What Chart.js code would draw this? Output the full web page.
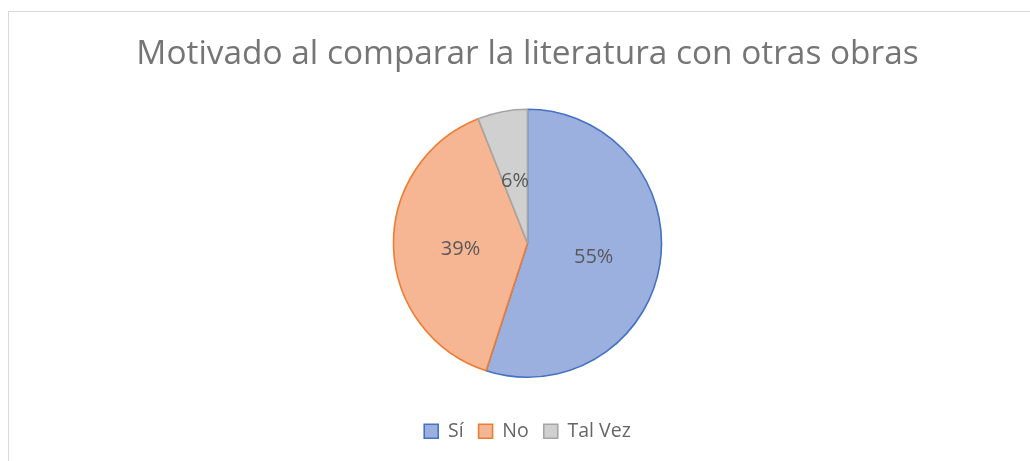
<!DOCTYPE html>
<html>
<head>
<meta charset="utf-8">
<script src="https://cdn.jsdelivr.net/npm/chart.js@4/dist/chart.umd.min.js"></script>
<style>
  html, body { margin: 0; padding: 0; background: #fff; }
  #wrap { position: relative; width: 1030px; height: 461px; overflow: hidden; }
  #frame { position: absolute; left: 8px; top: 11px; width: 1100px; height: 500px;
           border-top: 1px solid #d9d9d9; border-left: 1px solid #d9d9d9; pointer-events: none; }
  canvas { position: absolute; left: 0; top: 0; }
</style>
</head>
<body>
<div id="wrap">
  <div id="frame"></div>
  <canvas id="c" width="1030" height="461"></canvas>
</div>
<script>
const titleText = 'Motivado al comparar la literatura con otras obras';
const categories = ['Sí', 'No', 'Tal Vez'];
const values = [55, 39, 6];
const borderColors = ['#4472C4', '#ED7D31', '#A5A5A5'];
const gradTop = ['#abbae3', '#f8c6ab', '#d6d6d6'];
const gradBottom = ['#879fd9', '#f4a47c', '#c4c4c4'];
const solidColors = ['#9cb0df', '#f6b593', '#d0d0d0'];

const FONT = '"Open Sans", Lato, sans-serif';

function sliceFill(ctx) {
  const chart = ctx.chart;
  const i = ctx.dataIndex;
  const meta = chart.getDatasetMeta(0);
  const arc = meta && meta.data && meta.data[i];
  if (!chart.chartArea || !arc || !arc.outerRadius) return solidColors[i];
  const g = chart.ctx.createLinearGradient(0, arc.y - arc.outerRadius, 0, arc.y + arc.outerRadius);
  g.addColorStop(0, gradTop[i]);
  g.addColorStop(1, gradBottom[i]);
  return g;
}

const labelPlugin = {
  id: 'sliceLabels',
  afterDatasetsDraw(chart) {
    const meta = chart.getDatasetMeta(0);
    const data = chart.data.datasets[0].data;
    const total = data.reduce((a, b) => a + b, 0);
    const ctx = chart.ctx;
    ctx.save();
    ctx.font = '20px ' + FONT;
    ctx.fillStyle = '#595959';
    ctx.textAlign = 'center';
    ctx.textBaseline = 'middle';
    meta.data.forEach((arc, i) => {
      const p = arc.tooltipPosition();
      ctx.fillText(Math.round(data[i] / total * 100) + '%', p.x, p.y + 3.5);
    });
    ctx.restore();
  }
};

new Chart(document.getElementById('c'), {
  type: 'pie',
  data: {
    labels: categories,
    datasets: [{
      data: values,
      backgroundColor: sliceFill,
      borderColor: borderColors,
      borderWidth: 1.6,
      radius: 134
    }]
  },
  options: {
    responsive: false,
    animation: false,
    layout: { padding: { left: 25, right: 0, top: 0, bottom: 10 } },
    plugins: {
      title: {
        display: true,
        text: titleText,
        color: '#757575',
        font: { family: FONT, size: 33.4, weight: 'normal', lineHeight: 1.2 },
        padding: { top: 34, bottom: 6 }
      },
      legend: {
        position: 'bottom',
        labels: {
          boxWidth: 14,
          boxHeight: 14,
          padding: 15,
          color: '#666666',
          font: { family: FONT, size: 19.5 },
          generateLabels(chart) {
            return categories.map((c, i) => ({
              text: c,
              fillStyle: solidColors[i],
              strokeStyle: borderColors[i],
              lineWidth: 1.6,
              fontColor: '#666666',
              hidden: false,
              index: i
            }));
          }
        }
      },
      tooltip: { enabled: false }
    }
  },
  plugins: [labelPlugin]
});
</script>
</body>
</html>
